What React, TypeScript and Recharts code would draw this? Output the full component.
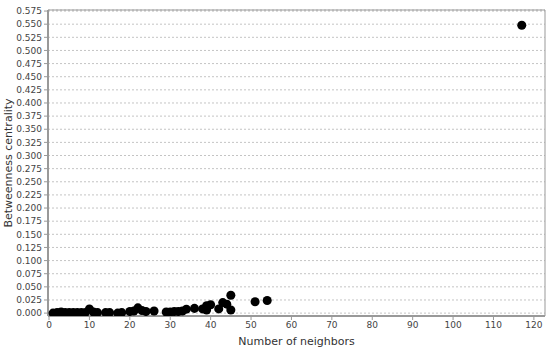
import { CartesianGrid, ReferenceLine, Scatter, ScatterChart, XAxis, YAxis, ZAxis } from 'recharts';

const neighbors = [
  1, 2, 3, 4, 5, 6, 7, 8, 9, 10, 11, 12, 14, 15, 17, 18, 20, 21, 22, 23, 24, 26,
  29, 30, 31, 32, 33, 34, 36, 38, 39, 39, 40, 42, 43, 44, 45, 45, 51, 54, 117,
];
const betweenness = [
  0.0, 0.001, 0.002, 0.001, 0.001, 0.001, 0.001, 0.001, 0.001, 0.008, 0.002, 0.001, 0.001,
  0.001, 0.0, 0.001, 0.003, 0.004, 0.01, 0.005, 0.003, 0.004, 0.002, 0.002, 0.003, 0.003,
  0.004, 0.0075, 0.009, 0.008, 0.014, 0.006, 0.016, 0.008, 0.02, 0.017, 0.034, 0.006, 0.0215,
  0.024, 0.548,
];
const xTicks = [0, 10, 20, 30, 40, 50, 60, 70, 80, 90, 100, 110, 120];
const yTicks = [
  0, 0.025, 0.05, 0.075, 0.1, 0.125, 0.15, 0.175, 0.2, 0.225, 0.25, 0.275, 0.3, 0.325, 0.35,
  0.375, 0.4, 0.425, 0.45, 0.475, 0.5, 0.525, 0.55, 0.575,
];

const points = neighbors.map((n, i) => ({ n, b: betweenness[i] }));

const X_DOMAIN: [number, number] = [-0.25, 122.75];
const Y_DOMAIN: [number, number] = [-0.0055, 0.577];
const tickStyle = { fill: '#444', fontSize: 9, fontFamily: 'DejaVu Sans' };

export default function App() {
  return (
    <div style={{ position: 'absolute', left: 0, top: 0, background: '#fff' }}>
      <ScatterChart width={550} height={352} margin={{ top: 10, right: 5, bottom: 0, left: 0 }}>
        <CartesianGrid vertical={false} stroke="#c4c4c4" strokeDasharray="2 2" />
        <XAxis
          type="number"
          dataKey="n"
          domain={X_DOMAIN}
          ticks={xTicks}
          interval={0}
          allowDataOverflow
          height={36}
          tick={tickStyle}
          tickSize={4}
          axisLine={{ stroke: '#999', strokeWidth: 2 }}
          tickLine={{ stroke: '#999' }}
          label={{
            value: 'Number of neighbors',
            position: 'insideBottom',
            offset: 7,
            style: { fill: '#333', fontSize: 11, fontFamily: 'DejaVu Sans' },
          }}
        />
        <YAxis
          type="number"
          dataKey="b"
          domain={Y_DOMAIN}
          ticks={yTicks}
          interval={0}
          allowDataOverflow
          width={48}
          tick={tickStyle}
          tickSize={4}
          tickFormatter={(v: number) => v.toFixed(3)}
          axisLine={{ stroke: '#999', strokeWidth: 2 }}
          tickLine={{ stroke: '#999' }}
          label={{
            value: 'Betweenness centrality',
            angle: -90,
            position: 'insideLeft',
            offset: 8,
            style: { fill: '#333', fontSize: 11, fontFamily: 'DejaVu Sans', textAnchor: 'middle' },
          }}
        />
        <ZAxis range={[42, 42]} />
        <ReferenceLine y={Y_DOMAIN[1]} stroke="#999" />
        <ReferenceLine x={X_DOMAIN[1]} stroke="#999" />
        <Scatter data={points} fill="#000" isAnimationActive={false} />
      </ScatterChart>
    </div>
  );
}
